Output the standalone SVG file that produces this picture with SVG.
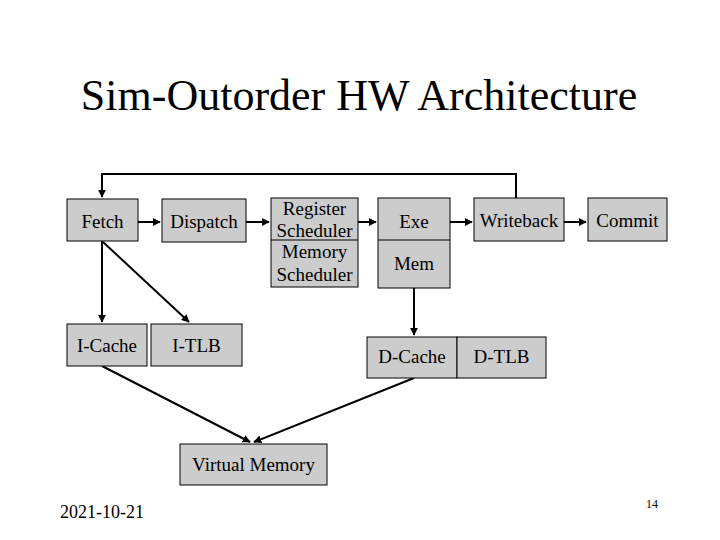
<svg xmlns="http://www.w3.org/2000/svg" width="720" height="540" viewBox="0 0 720 540">
<style>
.box{fill:#cccccc;stroke:#000;stroke-width:1}
.t{font-family:"Liberation Serif","Times New Roman",serif;font-size:19px;fill:#000;text-anchor:middle}
.c{fill:none;stroke:#000;stroke-width:2}
</style>
<defs>
<marker id="a" viewBox="0 0 10 10" refX="9" refY="5" markerWidth="4" markerHeight="4" orient="auto" markerUnits="strokeWidth">
<path d="M0,0 L10,5 L0,10 z" fill="#000"/>
</marker>
</defs>
<rect width="720" height="540" fill="#fff"/>
<text x="359" y="110" font-family="'Liberation Serif','Times New Roman',serif" font-size="44" text-anchor="middle">Sim-Outorder HW Architecture</text>
<g id="connectors">
<polyline class="c" points="516,198 516,174 102,174 102,197" marker-end="url(#a)"/>
<line class="c" x1="138" y1="222" x2="160" y2="222" marker-end="url(#a)"/>
<line class="c" x1="246" y1="222" x2="269" y2="222" marker-end="url(#a)"/>
<line class="c" x1="358" y1="222" x2="376" y2="222" marker-end="url(#a)"/>
<line class="c" x1="450" y1="222" x2="472" y2="222" marker-end="url(#a)"/>
<line class="c" x1="564" y1="222" x2="586" y2="222" marker-end="url(#a)"/>
<line class="c" x1="102" y1="241" x2="102" y2="322" marker-end="url(#a)"/>
<line class="c" x1="103" y1="242" x2="189" y2="322" marker-end="url(#a)"/>
<line class="c" x1="414" y1="288" x2="414" y2="335" marker-end="url(#a)"/>
<line class="c" x1="102" y1="366" x2="250" y2="442" marker-end="url(#a)"/>
<line class="c" x1="414" y1="378" x2="254" y2="442" marker-end="url(#a)"/>
</g>
<g id="fetch"><rect class="box" x="67" y="199" width="71" height="42"/><text class="t" x="102.5" y="228">Fetch</text></g>
<g id="dispatch"><rect class="box" x="162" y="199" width="84" height="43"/><text class="t" x="204" y="228">Dispatch</text></g>
<g id="scheduler"><rect class="box" x="271" y="198" width="87" height="89"/><line x1="271" y1="240" x2="358" y2="240" stroke="#000" stroke-width="1"/>
<text class="t" x="314.5" y="215">Register</text><text class="t" x="314.5" y="237">Scheduler</text><text class="t" x="314.5" y="258">Memory</text><text class="t" x="314.5" y="281">Scheduler</text></g>
<g id="exe"><rect class="box" x="378" y="198" width="72" height="90"/><line x1="378" y1="240" x2="450" y2="240" stroke="#000" stroke-width="1"/>
<text class="t" x="414" y="228">Exe</text><text class="t" x="414" y="270">Mem</text></g>
<g id="writeback"><rect class="box" x="474" y="198" width="90" height="43"/><text class="t" x="519" y="227">Writeback</text></g>
<g id="commit"><rect class="box" x="588" y="198" width="79" height="43"/><text class="t" x="627.5" y="227">Commit</text></g>
<g id="icache"><rect class="box" x="67" y="324" width="80" height="42"/><text class="t" x="107" y="352">I-Cache</text></g>
<g id="itlb"><rect class="box" x="151" y="324" width="91" height="42"/><text class="t" x="196.5" y="352">I-TLB</text></g>
<g id="dcache"><rect class="box" x="367" y="337" width="90" height="41"/><text class="t" x="412" y="363">D-Cache</text></g>
<g id="dtlb"><rect class="box" x="457" y="337" width="89" height="41"/><text class="t" x="501.5" y="363">D-TLB</text></g>
<g id="vm"><rect class="box" x="180" y="444" width="147" height="41"/><text class="t" x="253.5" y="471">Virtual Memory</text></g>
<text x="60" y="518" font-family="'Liberation Serif','Times New Roman',serif" font-size="18">2021-10-21</text>
<text x="652" y="508" font-family="'Liberation Serif','Times New Roman',serif" font-size="12" text-anchor="middle">14</text>
</svg>
